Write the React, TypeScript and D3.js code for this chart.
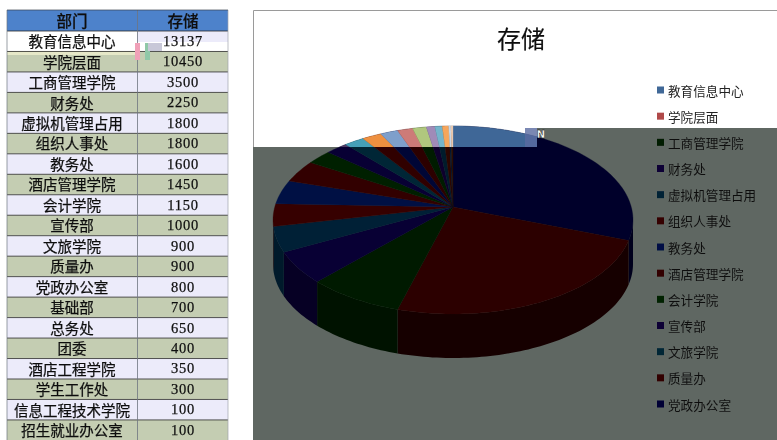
import React from "react";
import * as d3 from "d3";

const departments = ["教育信息中心","学院层面","工商管理学院","财务处","虚拟机管理占用","组织人事处","教务处","酒店管理学院","会计学院","宣传部","文旅学院","质量办","党政办公室","基础部","总务处","团委","酒店工程学院","学生工作处","信息工程技术学院","招生就业办公室"];
const storage = [13137,10450,3500,2250,1800,1800,1600,1450,1150,1000,900,900,800,700,650,400,350,300,100,100];
const tableHeaders = ["部门","存储"];
const chartTitle = "存储";
const legendCount = 13;

const lightColors = ["#3f6797","#b04a48","#8fae55","#7a5f9a","#45a0b8","#ee9040","#34567f","#7d3230","#5f7535","#4d3d66","#45a0b8","#ee9040","#7e9fcb","#cd7b78","#b0c77e","#a08bb8","#74b4cb","#f6a65c","#c8d8e8","#e8c8b0"];
const darkTop = ["#00002a","#2c0000","#001a00","#080034","#002036","#360000","#001044","#320000","#002000","#080034","#002636","#300000","#000636","#2c0000","#001c00","#0e002c","#001c2c","#2c0600","#001630","#2c0e00"];
const darkSide = ["#00001c","#160000","#001200","#060024","#001a2b","#200000","#000a2c","#1e0000","#001200","#060024","#00182a","#1e0000","#000424","#1c0000","#001200","#08001c","#00121c","#1c0400","#000e1c","#1c0800"];

const W = 777, H = 440;
const cx = 453, cy = 220, rx = 180, ry = 94, hubY = 207, depth = 44;
const font = '"Noto Sans CJK SC", sans-serif';

// the reference's 3D projection shifts slice edges around the rim; degrees of pie angle -> degrees on the ellipse
const rim = d3.scaleLinear()
  .domain([0, 109, 196, 225, 243.7, 258.6, 273.6, 298.9, 324.3, 344.2, 360])
  .range([0, 102.5, 198, 229, 250, 266, 280, 307.6, 330, 347, 360]);
const toRim = (a: number) => (rim((a * 180) / Math.PI) * Math.PI) / 180;

const pieLayout = d3.pie<number>().sort(null).startAngle(0).endAngle(2 * Math.PI);
const arcs = pieLayout(storage).map((d) => ({ ...d, startAngle: toRim(d.startAngle), endAngle: toRim(d.endAngle) }));
const pt = (a: number): [number, number] => [cx + rx * Math.sin(a), cy - ry * Math.cos(a)];

function arcTrace(a0: number, a1: number, dy = 0) {
  const n = Math.max(2, Math.ceil(Math.abs(a1 - a0) * 40));
  return d3.range(n + 1).map((i) => {
    const p = pt(a0 + ((a1 - a0) * i) / n);
    return [p[0], p[1] + dy] as [number, number];
  });
}
const line = d3.line();
function wedge(a0: number, a1: number) {
  return line([[cx, hubY], ...arcTrace(a0, a1)])! + "Z";
}
function side(a0: number, a1: number) {
  return line([...arcTrace(a0, a1), ...arcTrace(a1, a0, depth)])! + "Z";
}

const rowScale = d3.scaleBand<number>().domain(d3.range(departments.length)).range([31, 440.4]);
const legendY = d3.scalePoint<number>().domain(d3.range(legendCount)).range([90, 404]);

const rowFill = (i: number) => (i === 0 ? "#ffffff" : i % 2 === 1 ? "#c4cdb2" : "#ecebfa");

function Pie({ colors, sideColors }: { colors: string[]; sideColors: string[] }) {
  return (
    <g>
      {arcs.map((d, i) => {
        const a0 = Math.max(d.startAngle, Math.PI / 2);
        const a1 = Math.min(d.endAngle, (3 * Math.PI) / 2);
        return a1 > a0 ? <path key={i} d={side(a0, a1)} fill={sideColors[i]} /> : null;
      })}
      {arcs.map((d, i) => (
        <path key={i} d={wedge(d.startAngle, d.endAngle)} fill={colors[i]} stroke={colors[i]} strokeWidth={0.3} />
      ))}
    </g>
  );
}

export default function App() {
  return (
    <svg width={W} height={H} viewBox={`0 0 ${W} ${H}`} style={{ position: "fixed", left: 0, top: 0, background: "#fff" }}>
      <defs>
        <clipPath id="lightZone"><rect x={254} y={0} width={283} height={147} /></clipPath>
        <filter id="soft"><feGaussianBlur stdDeviation={0.35} /></filter>
      </defs>

      {/* table */}
      <rect x={7} y={10} width={221} height={21} fill="#4d82cb" />
      {departments.map((_, i) => (
        <rect key={i} x={7} y={rowScale(i)!} width={221} height={rowScale.bandwidth()} fill={rowFill(i)} />
      ))}
      <rect x={137} y={31} width={91} height={11} fill="#ecebfa" />
      <rect x={7} y={51} width={130} height={4} fill="#e6e8c8" />
      {departments.map((_, i) => (
        <line key={i} x1={7} x2={228} y1={rowScale(i)!} y2={rowScale(i)!} stroke="#2a2a2a" strokeWidth={0.8} />
      ))}
      <line x1={137.5} x2={137.5} y1={10} y2={440} stroke="#6f7580" strokeWidth={0.8} />
      <line x1={7} x2={7} y1={10} y2={440} stroke="#6f7580" strokeWidth={0.7} />
      <line x1={228} x2={228} y1={10} y2={440} stroke="#a0a4ac" strokeWidth={0.7} />
      <line x1={7} x2={228} y1={10} y2={10} stroke="#39424f" strokeWidth={0.7} />
      <rect x={135} y={43} width={5} height={17} fill="#f0a0b8" />
      <rect x={145} y={43} width={5} height={17} fill="#8fc8a8" />
      <rect x={148} y={43} width={14} height={8} fill="#c8c8d8" />

      <g filter="url(#soft)" fontFamily={font} fill="#111" stroke="#111" strokeWidth={0.25} textAnchor="middle" dominantBaseline="central">
        <text x={72} y={20} fontSize={15.5} fontWeight={500}>{tableHeaders[0]}</text>
        <text x={183} y={20} fontSize={15.5} fontWeight={500}>{tableHeaders[1]}</text>
        {departments.map((d, i) => (
          <text key={d} x={72} y={rowScale(i)! + rowScale.bandwidth() / 2 - 0.6} fontSize={14.5}>{d}</text>
        ))}
        {storage.map((v, i) => (
          <text key={i} x={183} y={rowScale(i)! + rowScale.bandwidth() / 2 - 0.3} fontSize={14.5} fontFamily='"Liberation Serif", serif' letterSpacing={0.8}>{v}</text>
        ))}
      </g>

      {/* chart frame + dark overlay */}
      <path d={`M${W} 10.5H253.5V147`} fill="none" stroke="#9a9a9a" strokeWidth={1} />
      <path d={`M253 147H537V128H${W}V${H}H253Z`} fill="#5f6762" />

      <Pie colors={darkTop} sideColors={darkSide} />
      <g clipPath="url(#lightZone)">
        <Pie colors={lightColors} sideColors={darkSide} />
      </g>
      <rect x={525} y={128} width={12} height={19} fill="#5a6aa0" opacity={0.8} />
      <text x={541} y={134} fontSize={10} fontWeight={700} fill="#fff" stroke="#000" strokeWidth={0.3} textAnchor="middle" dominantBaseline="central" fontFamily="DejaVu Sans">N</text>

      <text x={521} y={37} fontSize={24} fill="#111" stroke="#111" strokeWidth={0.2} textAnchor="middle" dominantBaseline="central" fontFamily={font} filter="url(#soft)">{chartTitle}</text>

      {/* legend */}
      <g filter="url(#soft)">
        {d3.range(legendCount).map((i) => (
          <g key={i}>
            <rect x={657} y={legendY(i)! - 3.5} width={7} height={7} fill={i < 2 ? lightColors[i] : darkTop[i]} />
            <text x={668} y={legendY(i)!} fontSize={12.6} fill={i < 2 ? "#222" : "#111"} dominantBaseline="central" fontFamily={font}>{departments[i]}</text>
          </g>
        ))}
      </g>
    </svg>
  );
}
